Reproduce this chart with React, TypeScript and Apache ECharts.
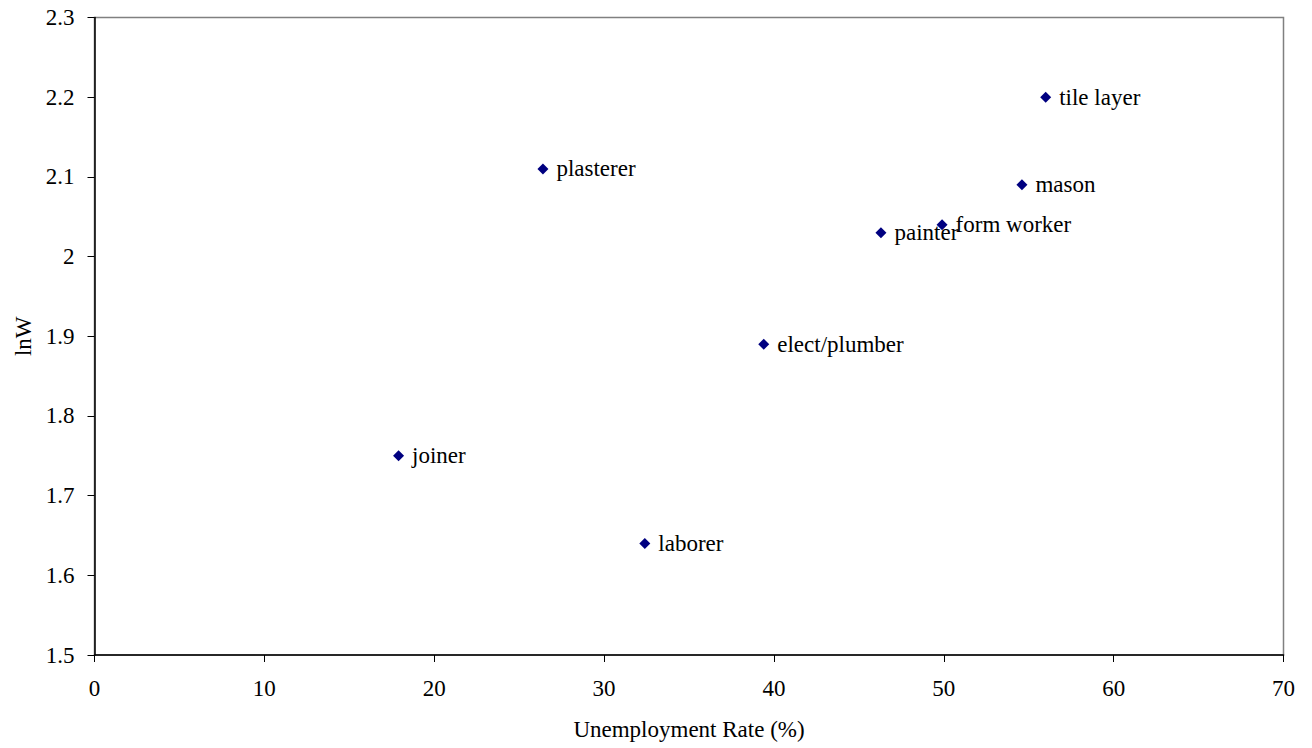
import React, { useEffect, useRef } from "react";
import * as echarts from "echarts";

const occupations = ["tile layer", "mason", "form worker", "painter", "plasterer", "elect/plumber", "joiner", "laborer"];
const unemploymentRate = [56.0, 54.6, 49.9, 46.3, 26.4, 39.4, 17.9, 32.4];
const lnW = [2.2, 2.09, 2.04, 2.03, 2.11, 1.89, 1.75, 1.64];

const FONT = "'Liberation Serif', 'Times New Roman', serif";
const FS = 23;

export default function App() {
  const ref = useRef<HTMLDivElement>(null);
  useEffect(() => {
    if (!ref.current) return;
    const chart = echarts.init(ref.current, null, { renderer: "svg" });
    const data = occupations.map((n, i) => ({ name: n, value: [unemploymentRate[i], lnW[i]] }));
    chart.setOption({
      animation: false,
      backgroundColor: "#ffffff",
      textStyle: { fontFamily: FONT },
      grid: {
        left: 94.5,
        top: 17.5,
        right: 28.5,
        bottom: 93,
        show: true,
        borderColor: "#808080",
        borderWidth: 1.5,
        backgroundColor: "transparent",
      },
      xAxis: {
        type: "value",
        min: 0,
        max: 70,
        interval: 10,
        name: "Unemployment Rate (%)",
        nameLocation: "middle",
        nameGap: 63,
        nameTextStyle: { fontFamily: FONT, fontSize: FS, color: "#000" },
        axisLine: { show: true, onZero: false, lineStyle: { color: "#000", width: 1.5 } },
        axisTick: { show: true, length: 7, lineStyle: { color: "#000", width: 1 } },
        axisLabel: { margin: 22, fontFamily: FONT, fontSize: FS, color: "#000" },
        splitLine: { show: false },
      },
      yAxis: {
        type: "value",
        min: 1.5,
        max: 2.3,
        interval: 0.1,
        name: "lnW",
        nameLocation: "middle",
        nameGap: 60,
        nameTextStyle: { fontFamily: FONT, fontSize: FS, color: "#000" },
        axisLine: { show: true, onZero: false, lineStyle: { color: "#000", width: 1.5 } },
        axisTick: { show: true, length: 7, lineStyle: { color: "#000", width: 1 } },
        axisLabel: {
          margin: 20,
          fontFamily: FONT,
          fontSize: FS,
          color: "#000",
          formatter: (v: number) => String(Math.round(v * 10) / 10),
        },
        splitLine: { show: false },
      },
      series: [
        {
          type: "scatter",
          symbol: "diamond",
          symbolSize: 11,
          itemStyle: { color: "#000080", opacity: 1 },
          label: {
            show: true,
            position: "right",
            distance: 8,
            formatter: "{b}",
            fontFamily: FONT,
            fontSize: FS,
            color: "#000",
          },
          data,
        },
      ],
    });
    return () => chart.dispose();
  }, []);
  return (
    <div
      ref={ref}
      style={{ position: "fixed", left: 0, top: 0, width: 1312, height: 748, background: "#fff" }}
    />
  );
}
